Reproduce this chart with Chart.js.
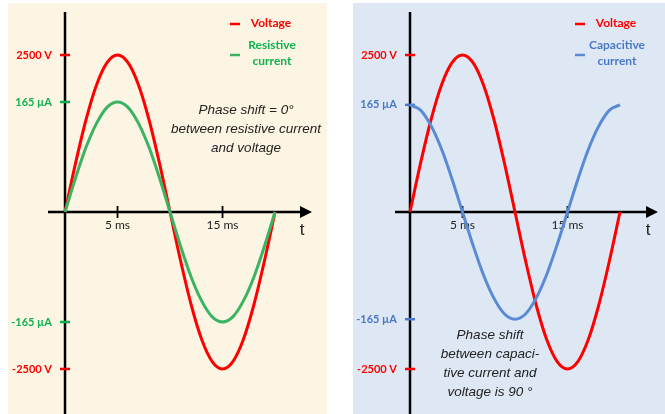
<!DOCTYPE html>
<html><head><meta charset="utf-8">
<script src="https://cdn.jsdelivr.net/npm/chart.js@4"></script>
<style>
html,body{margin:0;padding:0;background:#fff;width:665px;height:414px;overflow:hidden}
.panel{position:absolute;top:3px;height:411px}
#pL{left:8px;width:319px;background:#fdf5e3}
#pR{left:353px;width:312px;background:#dee8f4}
canvas{display:block}
</style></head><body>
<div class="panel" id="pL"><canvas id="cL" width="319" height="411"></canvas></div>
<div class="panel" id="pR"><canvas id="cR" width="312" height="411"></canvas></div>
<script>
// ---- data ----
const timeMs = [0,1,2,3,4,5,6,7,8,9,10,11,12,13,14,15,16,17,18,19,20];
const voltage = [0,773,1469,2023,2378,2500,2378,2023,1469,773,0,-773,-1469,-2023,-2378,-2500,-2378,-2023,-1469,-773,0];
const resistiveCurrent = [0,51,97,133,157,165,157,133,97,51,0,-51,-97,-133,-157,-165,-157,-133,-97,-51,0];
const capacitiveCurrent = [165,157,133,97,51,0,-51,-97,-133,-157,-165,-157,-133,-97,-51,0,51,97,133,157,165];
const xTicks = [5,15];
const xTickLabels = ['5 ms','15 ms'];
const voltageTicks = [2500,-2500];
const voltageTickLabels = ['2500 V','-2500 V'];
const currentTicks = [165,-165];
const currentTickLabels = ['165 µA','-165 µA'];

const RED = '#ff0000';
const GREEN_LINE = '#3ab463', GREEN_TEXT = '#0fb04f';
const BLUE_LINE = '#5b8ad4', BLUE_TEXT = '#4a78c6';

const axesPlugin = {
  id: 'axes',
  beforeDatasetsDraw(chart, args, o) {
    const {ctx, chartArea: a, scales: {x, yV, yI}} = chart;
    const x0 = x.getPixelForValue(0), y0 = yV.getPixelForValue(0);
    ctx.save();
    ctx.strokeStyle = '#000'; ctx.fillStyle = '#000'; ctx.lineWidth = 2.5;
    ctx.beginPath(); ctx.moveTo(x0, a.top); ctx.lineTo(x0, a.bottom); ctx.stroke();
    ctx.beginPath(); ctx.moveTo(a.left, y0); ctx.lineTo(a.right - 8, y0); ctx.stroke();
    ctx.beginPath(); ctx.moveTo(a.right, y0); ctx.lineTo(a.right - 12, y0 - 6); ctx.lineTo(a.right - 12, y0 + 6); ctx.closePath(); ctx.fill();
    ctx.lineWidth = 1.8;
    ctx.font = '12px Lato'; ctx.textAlign = 'center'; ctx.textBaseline = 'middle';
    xTicks.forEach((v, i) => {
      const px = x.getPixelForValue(v);
      ctx.beginPath(); ctx.moveTo(px, y0 - 6); ctx.lineTo(px, y0 + 6); ctx.stroke();
      ctx.fillStyle = '#222'; ctx.fillText(xTickLabels[i], px, y0 + 13);
    });
    ctx.font = '17px "Liberation Sans"'; ctx.fillStyle = '#222';
    ctx.fillText('t', a.right - 10, y0 + 18);
    ctx.lineWidth = 2.5; ctx.textAlign = 'right'; ctx.font = 'bold 11px Lato';
    const yt = (scale, ticks, labels, col) => ticks.forEach((v, i) => {
      const py = scale.getPixelForValue(v);
      ctx.strokeStyle = col; ctx.fillStyle = col;
      ctx.beginPath(); ctx.moveTo(x0 - 5, py); ctx.lineTo(x0 + 5, py); ctx.stroke();
      ctx.fillText(labels[i], x0 - 13, py);
    });
    yt(yV, voltageTicks, voltageTickLabels, RED);
    yt(yI, currentTicks, currentTickLabels, o.textColor);
    ctx.restore();
  },
  afterDraw(chart, args, o) {
    const ctx = chart.ctx;
    ctx.save();
    ctx.lineWidth = 2.5; ctx.textAlign = 'center'; ctx.textBaseline = 'middle';
    ctx.strokeStyle = RED; ctx.beginPath(); ctx.moveTo(222, 21); ctx.lineTo(232, 21); ctx.stroke();
    ctx.strokeStyle = o.lineColor; ctx.beginPath(); ctx.moveTo(222, 52); ctx.lineTo(232, 52); ctx.stroke();
    ctx.font = 'bold 12px Lato';
    ctx.fillStyle = RED; ctx.fillText('Voltage', 263, 20);
    ctx.fillStyle = o.textColor;
    ctx.fillText(o.legend[0], 264, 42); ctx.fillText(o.legend[1], 264, 58);
    ctx.font = 'italic 13.5px "Liberation Sans"'; ctx.fillStyle = '#222';
    o.note.forEach((t, i) => ctx.fillText(t, o.noteX, o.noteY + i * 19));
    ctx.restore();
  }
};

function xy(arr) { return arr.map((v, i) => ({x: timeMs[i], y: v})); }

function make(id, current, lineColor, textColor, xr, yIr, legend, note, noteX, noteY, padL, padR) {
  new Chart(document.getElementById(id), {
    type: 'line',
    data: {
      datasets: [
        {data: xy(current), borderColor: lineColor, yAxisID: 'yI'},
        {data: xy(voltage), borderColor: RED, yAxisID: 'yV'}
      ].map(d => Object.assign(d, {borderWidth: 3, pointRadius: 0, cubicInterpolationMode: 'monotone', fill: false}))
    },
    options: {
      responsive: false, animation: false, events: [],
      layout: {padding: {left: padL, right: padR, top: 9, bottom: 0}},
      scales: {
        x: {type: 'linear', min: xr[0], max: xr[1], display: false},
        yV: {min: -3217, max: 3185, display: false},
        yI: {min: yIr[0], max: yIr[1], display: false}
      },
      plugins: {
        legend: {display: false}, tooltip: {enabled: false},
        axes: {lineColor, textColor, legend, note, noteX, noteY}
      }
    },
    plugins: [axesPlugin]
  });
}

make('cL', resistiveCurrent, GREEN_LINE, GREEN_TEXT, [-1.62, 23.52], [-303, 300],
  ['Resistive', 'current'], ['Phase shift = 0°', 'between resistive current', 'and voltage'], 238, 107, 40, 15);
make('cR', capacitiveCurrent, BLUE_LINE, BLUE_TEXT, [-1.43, 23.62], [-311, 308],
  ['Capacitive', 'current'], ['Phase shift', 'between capaci-', 'tive current and', 'voltage is 90 °'], 137, 332, 42, 7);
</script>
</body></html>
